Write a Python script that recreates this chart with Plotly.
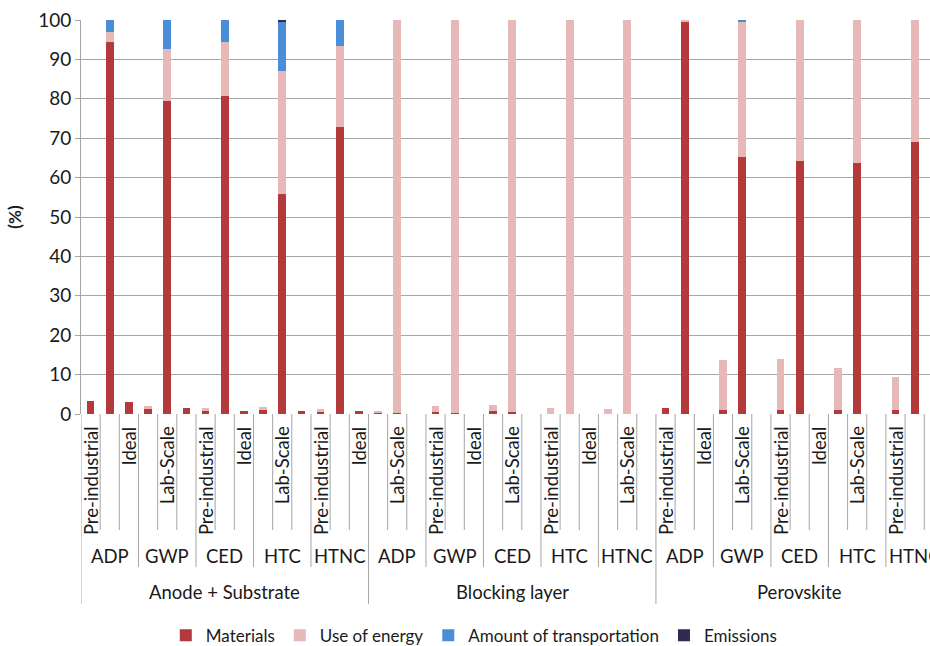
import plotly.graph_objects as go

# ---- data -------------------------------------------------------------
groups = ["Anode + Substrate", "Blocking layer", "Perovskite"]
indicators = ["ADP", "GWP", "CED", "HTC", "HTNC"]
scenarios = ["Pre-industrial", "Lab-Scale", "Ideal"]

# contribution (%) per category, ordered group -> indicator -> scenario
materials = [
    3.3, 94.3, 3.0, 1.5, 79.5, 1.45, 0.85, 80.8, 0.85, 1.0, 55.8, 0.85, 0.6, 72.8, 0.7,
    0.5, 0.3, 0.0, 0.4, 0.2, 0.0, 0.7, 0.4, 0.0, 0.1, 0.1, 0.0, 0.1, 0.1, 0.0,
    1.6, 99.6, 0.0, 1.0, 65.2, 0.0, 1.0, 64.3, 0.0, 1.0, 63.6, 0.0, 1.0, 69.1, 0.0,
]
use_of_energy = [
    0.0, 2.6, 0.0, 0.5, 13.1, 0.0, 0.6, 13.7, 0.0, 0.85, 31.2, 0.0, 0.6, 20.6, 0.0,
    0.3, 99.7, 0.0, 1.6, 99.8, 0.0, 1.5, 99.6, 0.0, 1.35, 99.9, 0.0, 1.2, 99.9, 0.0,
    0.0, 0.4, 0.0, 12.7, 34.5, 0.0, 13.0, 35.7, 0.0, 10.6, 36.4, 0.0, 8.3, 30.9, 0.0,
]
transportation = [
    0.0, 3.1, 0.0, 0.0, 7.4, 0.0, 0.0, 5.5, 0.0, 0.0, 12.6, 0.0, 0.0, 6.6, 0.0,
    0.0, 0.0, 0.0, 0.0, 0.0, 0.0, 0.0, 0.0, 0.0, 0.0, 0.0, 0.0, 0.0, 0.0, 0.0,
    0.0, 0.0, 0.0, 0.0, 0.3, 0.0, 0.0, 0.0, 0.0, 0.0, 0.0, 0.0, 0.0, 0.0, 0.0,
]
emissions = [
    0.0, 0.0, 0.0, 0.0, 0.0, 0.0, 0.0, 0.0, 0.0, 0.0, 0.4, 0.0, 0.0, 0.0, 0.0,
    0.0, 0.0, 0.0, 0.0, 0.0, 0.0, 0.0, 0.0, 0.0, 0.0, 0.0, 0.0, 0.0, 0.0, 0.0,
    0.0, 0.0, 0.0, 0.0, 0.0, 0.0, 0.0, 0.0, 0.0, 0.0, 0.0, 0.0, 0.0, 0.0, 0.0,
]

series = [
    ("Materials", materials, "#B3393B"),
    ("Use of energy", use_of_energy, "#E6B8B7"),
    ("Amount of transportation", transportation, "#4A8DD8"),
    ("Emissions", emissions, "#2F2A50"),
]

FONT = "Lato"
GRID = "#A6A6A6"
TEXT = "#1a1a1a"
LABEL_SIZE = 18.5

n_ind = len(indicators)
n_sc = len(scenarios)
n_grp = n_ind * n_sc
n_cat = len(groups) * n_grp
pos = list(range(n_cat))

fig = go.Figure()
for name, vals, col in series:
    fig.add_trace(go.Bar(x=pos, y=vals, name=name, marker_color=col,
                         marker_line_width=0))

# ---- hierarchical category axis ------------------------------------------
shapes = []
annotations = []
SC_DEPTH, IND_DEPTH, GRP_DEPTH = 116, 153, 190
for b in range(n_cat + 1):
    if b % n_grp == 0:
        depth = GRP_DEPTH
    elif b % n_sc == 0:
        depth = IND_DEPTH
    else:
        depth = SC_DEPTH
    shapes.append(dict(type="line", xref="x", yref="paper", ysizemode="pixel",
                       yanchor=0, x0=b - 0.5, x1=b - 0.5, y0=0, y1=-depth,
                       line=dict(color=GRID, width=1)))

label_font = dict(family=FONT, size=LABEL_SIZE, color=TEXT)
# scenario labels: every second category is labelled
for i in pos:
    if i % 2 == 0:
        annotations.append(dict(x=i, y=0, xref="x", yref="paper",
                                text=scenarios[i % n_sc], textangle=-90,
                                showarrow=False, xanchor="center",
                                yanchor="top", yshift=-10, font=label_font))
for g in range(len(groups)):
    for k, ind in enumerate(indicators):
        c = g * n_grp + k * n_sc + (n_sc - 1) / 2
        annotations.append(dict(x=c, y=0, xref="x", yref="paper", text=ind,
                                showarrow=False, yanchor="middle", yshift=-142,
                                font=label_font))
    c = g * n_grp + (n_grp - 1) / 2
    annotations.append(dict(x=c, y=0, xref="x", yref="paper", text=groups[g],
                            showarrow=False, yanchor="middle", yshift=-178,
                            font=label_font))

fig.update_layout(
    width=930, height=646,
    margin=dict(l=81, r=0, t=20, b=232),
    paper_bgcolor="white", plot_bgcolor="white",
    barmode="stack", bargap=0.6,
    font=dict(family=FONT, size=LABEL_SIZE, color=TEXT),
    shapes=shapes, annotations=annotations,
    legend=dict(orientation="h", xref="container", yref="container",
                x=0.51, xanchor="center", y=0.016, yanchor="middle",
                font=dict(family=FONT, size=17, color=TEXT),
                itemwidth=30, traceorder="normal"),
    showlegend=True,
)
fig.update_xaxes(range=[-0.5, 43.8], showticklabels=False, showgrid=False,
                 zeroline=False, showline=False, ticks="")
fig.update_yaxes(range=[0, 100], dtick=10, showgrid=True, gridcolor=GRID,
                 gridwidth=1, zeroline=False, showline=True, linecolor=GRID,
                 linewidth=1, ticks="outside", ticklen=5, tickcolor=GRID,
                 tickfont=dict(family=FONT, size=19, color=TEXT),
                 title=dict(text="<b>(%)</b>", standoff=12,
                            font=dict(family=FONT, size=17, color=TEXT)))

fig.write_html("out.html")
